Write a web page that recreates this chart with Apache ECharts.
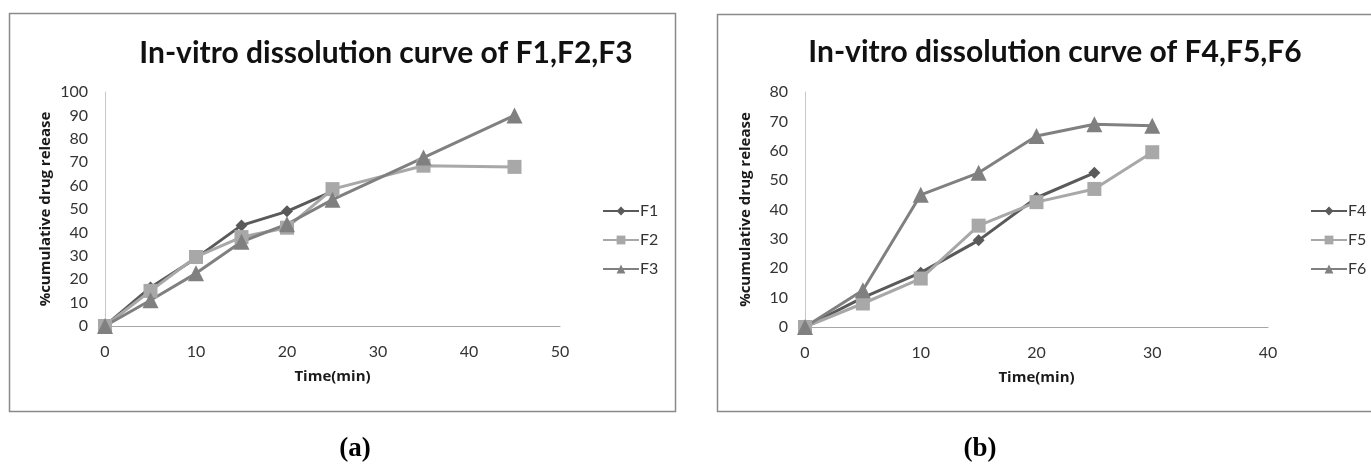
<!DOCTYPE html>
<html><head><meta charset="utf-8">
<script src="https://cdn.jsdelivr.net/npm/echarts@6/dist/echarts.min.js"></script>
<style>html,body{margin:0;padding:0;background:#fff}#c{width:1371px;height:464px}</style>
</head><body><div id="c"></div>
<script>
// Panel (a)
const timeA = [0, 5, 10, 15, 20, 25, 35, 45];
const F1 = [0, 16.5, 29, 43, 49, 57.5];
const F2 = [0, 15, 29.5, 38, 42, 58.5, 68.5, 68];
const F3 = [0, 11, 22.5, 36, 43.5, 54, 72, 90];
// Panel (b)
const timeB = [0, 5, 10, 15, 20, 25, 30];
const F4 = [0, 10, 18.5, 29.5, 44, 52.5];
const F5 = [0, 8, 16.5, 34.5, 42.5, 47, 59.5];
const F6 = [0, 12.5, 45, 52.5, 65, 69, 68.5];
const titleA = 'In-vitro dissolution curve of F1,F2,F3';
const titleB = 'In-vitro dissolution curve of F4,F5,F6';
const yName = '%cumulative drug release';
const xName = 'Time(min)';

const FONT = 'Lato, "Open Sans", sans-serif';
const NFONT = '"Open Sans", Lato, sans-serif';
const cDark = '#5a5a5a', cLight = '#a8a8a8', cMid = '#808080';
function pairs(xs, ys){ return ys.map((v,i)=>[xs[i], v]); }
function ser(name, xs, ys, color, symbol, size, idx){
  return {name, type:'line', xAxisIndex:idx, yAxisIndex:idx, data:pairs(xs, ys),
    symbol, symbolSize:size, itemStyle:{color}, lineStyle:{color, width:3}, animation:false};
}
function xAx(idx, max){
  return {type:'value', gridIndex:idx, min:0, max, interval:10, name:xName, nameLocation:'middle', nameGap:43,
    nameTextStyle:{fontFamily:NFONT, fontWeight:'bold', fontSize:15, color:'#1a1a1a'},
    axisLine:{lineStyle:{color:'#a6a6a6', width:1}}, axisTick:{show:false}, splitLine:{show:false},
    axisLabel:{fontFamily:FONT, fontSize:16, color:'#333', margin:18}};
}
function yAx(idx, max){
  return {type:'value', gridIndex:idx, min:0, max, interval:10, name:yName, nameLocation:'middle', nameGap:52,
    nameTextStyle:{fontFamily:NFONT, fontWeight:'bold', fontSize:15, color:'#1a1a1a'},
    axisLine:{show:true, lineStyle:{color:'#c8c8c8', width:1}}, axisTick:{show:false}, splitLine:{show:false},
    axisLabel:{fontFamily:FONT, fontSize:16, color:'#333', margin:17}};
}
const chart = echarts.init(document.getElementById('c'), null, {renderer:'canvas'});
chart.setOption({
  backgroundColor:'#fff',
  animation:false,
  title:[
    {text:titleA, left:381, top:33, textAlign:'center', textStyle:{fontFamily:FONT, fontWeight:'bold', fontSize:30, color:'#111'}},
    {text:titleB, left:1050, top:32, textAlign:'center', textStyle:{fontFamily:FONT, fontWeight:'bold', fontSize:30, color:'#111'}}
  ],
  legend:[
    {data:['F1','F2','F3'], orient:'vertical', left:597, top:198, itemGap:13, itemWidth:36, itemHeight:11,
      textStyle:{fontFamily:FONT, fontSize:16, color:'#333', padding:[0,0,0,-4]}},
    {data:['F4','F5','F6'], orient:'vertical', left:1305, top:198, itemGap:13, itemWidth:36, itemHeight:11,
      textStyle:{fontFamily:FONT, fontSize:16, color:'#333', padding:[0,0,0,-4]}}
  ],
  grid:[
    {left:105, top:92, width:455, height:234},
    {left:805, top:92, width:463, height:235}
  ],
  xAxis:[xAx(0,50), xAx(1,40)],
  yAxis:[yAx(0,100), yAx(1,80)],
  series:[
    ser('F1', timeA, F1, cDark, 'diamond', 12, 0),
    ser('F2', timeA, F2, cLight, 'rect', 14, 0),
    ser('F3', timeA, F3, cMid, 'triangle', 16, 0),
    ser('F4', timeB, F4, cDark, 'diamond', 12, 1),
    ser('F5', timeB, F5, cLight, 'rect', 14, 1),
    ser('F6', timeB, F6, cMid, 'triangle', 16, 1)
  ],
  graphic:[
    {type:'rect', shape:{x:9.5, y:13.5, width:666, height:398}, style:{fill:null, stroke:'#8a8a8a', lineWidth:1.5}, silent:true, z:-1},
    {type:'rect', shape:{x:717.5, y:14.5, width:680, height:397}, style:{fill:null, stroke:'#8a8a8a', lineWidth:1.5}, silent:true, z:-1},
    {type:'text', x:355, y:449, style:{text:'(a)', font:'bold 27px "Liberation Serif", "DejaVu Serif", serif', fill:'#000', textAlign:'center', textVerticalAlign:'middle'}},
    {type:'text', x:980, y:449, style:{text:'(b)', font:'bold 27px "Liberation Serif", "DejaVu Serif", serif', fill:'#000', textAlign:'center', textVerticalAlign:'middle'}}
  ]
});
</script></body></html>
